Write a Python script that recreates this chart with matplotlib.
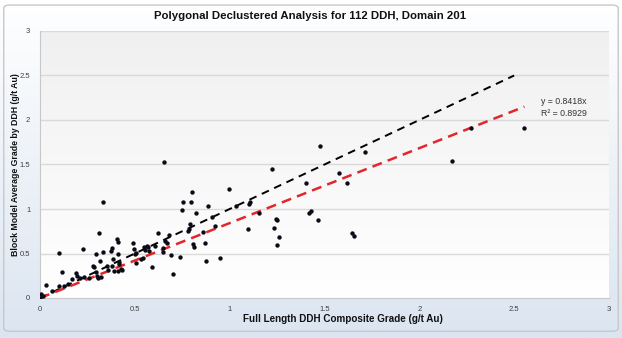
import numpy as np
import matplotlib
matplotlib.use('Agg')
import matplotlib.pyplot as plt
from matplotlib.patches import FancyBboxPatch
from matplotlib.colors import LinearSegmentedColormap

plt.rcParams['font.family'] = ['Liberation Sans', 'DejaVu Sans']

# composite grade (x) vs block model grade (y), g/t Au
comp_grade = [
    0.00, 0.005, 0.014, 0.03, 0.065, 0.10, 0.10, 0.114, 0.128, 0.149,
    0.167, 0.188, 0.193, 0.21, 0.228, 0.233, 0.26, 0.28, 0.284, 0.295,
    0.298, 0.304, 0.295, 0.312, 0.316, 0.321, 0.33, 0.333, 0.354, 0.36,
    0.374, 0.381, 0.377, 0.383, 0.39, 0.407, 0.409, 0.41, 0.414, 0.41,
    0.425, 0.43, 0.49, 0.497, 0.50, 0.508, 0.505, 0.53, 0.544, 0.549,
    0.556, 0.565, 0.572, 0.574, 0.593, 0.605, 0.623, 0.646, 0.649, 0.654,
    0.66, 0.667, 0.68, 0.693, 0.70, 0.737, 0.747, 0.753, 0.78, 0.788,
    0.793, 0.796, 0.80, 0.807, 0.81, 0.825, 0.86, 0.87, 0.877, 0.888,
    0.909, 0.923, 0.947, 0.997, 1.035, 1.096, 1.102, 1.105, 1.153, 1.225,
    1.235, 1.242, 1.249, 1.249, 1.26, 1.404, 1.42, 1.43, 1.465, 1.477,
    1.579, 1.62, 1.645, 1.656, 1.714, 2.174, 2.275, 2.554, 0.418,
]
block_grade = [
    0.00, 0.045, 0.026, 0.15, 0.08, 0.13, 0.51, 0.29, 0.14, 0.16,
    0.21, 0.28, 0.25, 0.23, 0.55, 0.24, 0.22, 0.36, 0.345, 0.29,
    0.25, 0.23, 0.49, 0.73, 0.42, 0.24, 1.08, 0.52, 0.365, 0.315,
    0.53, 0.56, 0.36, 0.44, 0.30, 0.66, 0.63, 0.49, 0.38, 0.30,
    0.33, 0.32, 0.62, 0.55, 0.49, 0.51, 0.39, 0.44, 0.45, 0.57,
    0.54, 0.58, 0.57, 0.53, 0.35, 0.58, 0.73, 0.52, 0.56, 1.525,
    0.64, 0.62, 0.71, 0.48, 0.27, 0.46, 0.99, 1.075, 0.756, 0.77,
    0.83, 1.08, 1.19, 0.607, 0.577, 0.96, 0.745, 0.62, 0.42, 1.03,
    0.91, 0.81, 0.45, 1.22, 1.034, 0.78, 1.06, 1.08, 0.95, 1.446,
    0.79, 0.884, 0.876, 0.60, 0.68, 1.296, 0.95, 0.98, 0.876, 1.708,
    1.41, 1.296, 0.734, 0.70, 1.637, 1.54, 1.91, 1.91, 0.40,
]
trend_slope = 0.8418
trend_r2 = 0.8929
ticks = [0, 0.5, 1, 1.5, 2, 2.5, 3]
tick_labels = ['0', '0.5', '1', '1.5', '2', '2.5', '3']

fig = plt.figure(figsize=(6.22, 3.38), dpi=100)

# chart area background: white -> light blue
bg = fig.add_axes([0, 0, 1, 1], zorder=-10)
bg.axis('off')
grad = np.linspace(0, 1, 256).reshape(-1, 1)
bg_cmap = LinearSegmentedColormap.from_list('bg', ['#dbe5f1', '#ffffff'])
bg.imshow(grad, cmap=bg_cmap, aspect='auto', extent=[0, 1, 0, 1], origin='lower')
bg.set_xlim(0, 1)
bg.set_ylim(0, 1)
bg.add_patch(FancyBboxPatch((0.006, 0.02), 0.988, 0.965,
                            boxstyle='round,pad=0,rounding_size=0.01',
                            fc='none', ec='#c8c8c8', lw=1.0))

ax = fig.add_axes([40 / 622, 40 / 338, 569 / 622, 267 / 338])
pa_cmap = LinearSegmentedColormap.from_list('pa', ['#ffffff', '#f0f0f0'])
ax.imshow(grad, cmap=pa_cmap, aspect='auto', extent=[0, 3, 0, 3],
          origin='lower', zorder=0)

for t in ticks[1:]:
    ax.axhline(t, color='#d9d9d9', lw=1.0, zorder=1)

x = np.array(comp_grade)
ax.plot([0, 2.5], [0, 2.5], color='black', lw=1.4, ls=(0, (4, 3)), zorder=2)
ax.plot([0, x.max()], [0, trend_slope * x.max()], color='#e3262b', lw=1.8,
        ls=(0, (4, 2.5)), zorder=3)
ax.scatter(comp_grade, block_grade, s=10, color='#0b0b18', zorder=4, linewidths=0)

ax.text(2.64, 2.21, f'y = {trend_slope}x', fontsize=6.3, color='#333333', va='center')
ax.text(2.64, 2.07, f'R² = {trend_r2}', fontsize=6.3, color='#333333', va='center')

ax.set_xlim(0, 3)
ax.set_ylim(0, 3)
ax.set_xticks(ticks)
ax.set_xticklabels(tick_labels)
ax.set_yticks(ticks)
ax.set_yticklabels(tick_labels)
ax.tick_params(length=0, labelsize=5.5, labelcolor='#404040')
ax.tick_params(axis='y', pad=7)
ax.tick_params(axis='x', pad=6)
for s in ['top', 'right']:
    ax.spines[s].set_visible(False)
ax.spines['left'].set_color('#c8c8c8')
ax.spines['bottom'].set_color('#c8c8c8')
ax.set_facecolor('none')

fig.text(310 / 622, 1 - 16 / 338, 'Polygonal Declustered Analysis for 112 DDH, Domain 201',
         fontsize=8.2, fontweight='bold', color='#111111', ha='center', va='center')
fig.text(343 / 622, 1 - 319 / 338, 'Full Length DDH Composite Grade (g/t Au)',
         fontsize=7.1, fontweight='bold', color='#111111', ha='center', va='center')
fig.text(16 / 622, 1 - 165 / 338, 'Block Model Average Grade by DDH (g/t Au)',
         fontsize=6.3, fontweight='bold', color='#111111', ha='center', va='center',
         rotation=90)

fig.savefig('out.png', dpi=100)
